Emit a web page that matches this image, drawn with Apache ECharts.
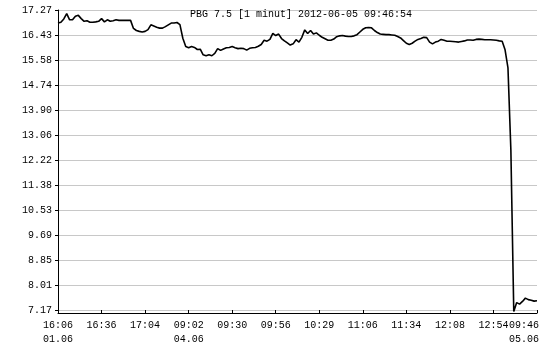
<!DOCTYPE html>
<html>
<head>
<meta charset="utf-8">
<script src="https://cdn.jsdelivr.net/npm/echarts@6/dist/echarts.min.js"></script>
<style>html,body{margin:0;padding:0;background:#fff}#c{width:550px;height:350px}</style>
</head>
<body>
<div id="c"></div>
<script>
var titleText = 'PBG 7.5 [1 minut] 2012-06-05 09:46:54';
var tickTimes = ['16:06','16:36','17:04','09:02','09:30','09:56','10:29','11:06','11:34','12:08','12:54','09:46'];
var tickDates = ['01.06','','','04.06','','','','','','','','05.06'];
var yTicks = [7.17, 8.01, 8.85, 9.69, 10.53, 11.38, 12.22, 13.06, 13.90, 14.74, 15.58, 16.43, 17.27];
var prices = [
16.83,16.86,16.97,17.15,16.94,16.94,17.06,17.09,16.98,16.89,
16.91,16.86,16.86,16.87,16.89,16.98,16.87,16.94,16.89,16.91,
16.94,16.92,16.92,16.92,16.92,16.92,16.65,16.58,16.55,16.53,
16.55,16.61,16.77,16.73,16.69,16.66,16.66,16.71,16.77,16.83,
16.83,16.85,16.78,16.32,16.04,16.00,16.04,16.01,15.94,15.95,
15.76,15.73,15.76,15.73,15.81,15.97,15.91,15.96,16.00,16.01,
16.04,16.00,15.97,15.98,15.97,15.92,15.98,16.00,16.01,16.05,
16.11,16.25,16.22,16.28,16.48,16.41,16.46,16.31,16.23,16.16,
16.09,16.13,16.27,16.19,16.35,16.60,16.48,16.58,16.46,16.50,
16.42,16.35,16.30,16.25,16.25,16.29,16.37,16.40,16.41,16.39,
16.38,16.38,16.40,16.44,16.53,16.62,16.67,16.68,16.67,16.58,
16.51,16.46,16.45,16.44,16.44,16.43,16.42,16.38,16.33,16.24,
16.15,16.11,16.15,16.22,16.28,16.31,16.35,16.34,16.19,16.13,
16.19,16.22,16.28,16.25,16.22,16.22,16.21,16.20,16.19,16.21,
16.23,16.26,16.26,16.25,16.28,16.29,16.28,16.27,16.27,16.27,
16.26,16.25,16.23,16.22,15.93,15.32,12.56,7.12,7.42,7.37,
7.46,7.57,7.52,7.50,7.47,7.48
];
var pointsPerTick = 15;

var seriesData = prices.map(function (v, i) { return [i, v]; });
var font = 'Liberation Mono';
var lastIdx = tickTimes.length - 1;
function labelFor(k) {
  var t = tickTimes[k] || '';
  return tickDates[k] ? t + '\n' + tickDates[k] : t;
}
var labelBase = {fontFamily: font, fontSize: 10, color: '#000', margin: 5, lineHeight: 14,
  showMinLabel: true, showMaxLabel: true};
var xBase = {
  type: 'value', position: 'bottom',
  min: 0, max: lastIdx * pointsPerTick, interval: pointsPerTick,
  splitLine: {show: false}
};
var chart = echarts.init(document.getElementById('c'), null, {renderer: 'canvas'});
chart.setOption({
  animation: false,
  backgroundColor: '#ffffff',
  title: {
    text: titleText,
    left: 185, top: 4,
    textStyle: {fontFamily: font, fontSize: 10, fontWeight: 'normal', color: '#000'}
  },
  grid: {left: 58, right: 13, top: 10, bottom: 37, containLabel: false, outerBoundsMode: 'none'},
  xAxis: [
    Object.assign({}, xBase, {
      axisLine: {show: true, lineStyle: {color: '#000', width: 1}},
      axisTick: {show: true, inside: true, length: 3, lineStyle: {color: '#000'}},
      axisLabel: Object.assign({}, labelBase, {
        formatter: function (v) {
          var k = Math.round(v / pointsPerTick);
          return k === lastIdx ? '' : labelFor(k);
        }
      })
    }),
    Object.assign({}, xBase, {
      axisLine: {show: false},
      axisTick: {show: false},
      axisLabel: Object.assign({}, labelBase, {
        alignMaxLabel: 'right',
        padding: [0, -2, 0, 0],
        formatter: function (v) {
          var k = Math.round(v / pointsPerTick);
          return k === lastIdx ? labelFor(k) : '';
        }
      })
    })
  ],
  yAxis: {
    type: 'value',
    min: 7.07,
    max: 17.27,
    axisLine: {show: true, lineStyle: {color: '#000', width: 1}},
    axisTick: {show: true, length: 3, customValues: yTicks, lineStyle: {color: '#000'}},
    splitLine: {show: true, lineStyle: {color: '#c8c8c8', width: 1}},
    axisLabel: {
      fontFamily: font, fontSize: 10, color: '#000', margin: 6,
      customValues: yTicks,
      formatter: function (v) { return v.toFixed(2); }
    }
  },
  series: [{
    type: 'line',
    xAxisIndex: 0,
    data: seriesData,
    symbol: 'none',
    lineStyle: {color: '#000', width: 1.6},
    silent: true
  }]
});
</script>
</body>
</html>
